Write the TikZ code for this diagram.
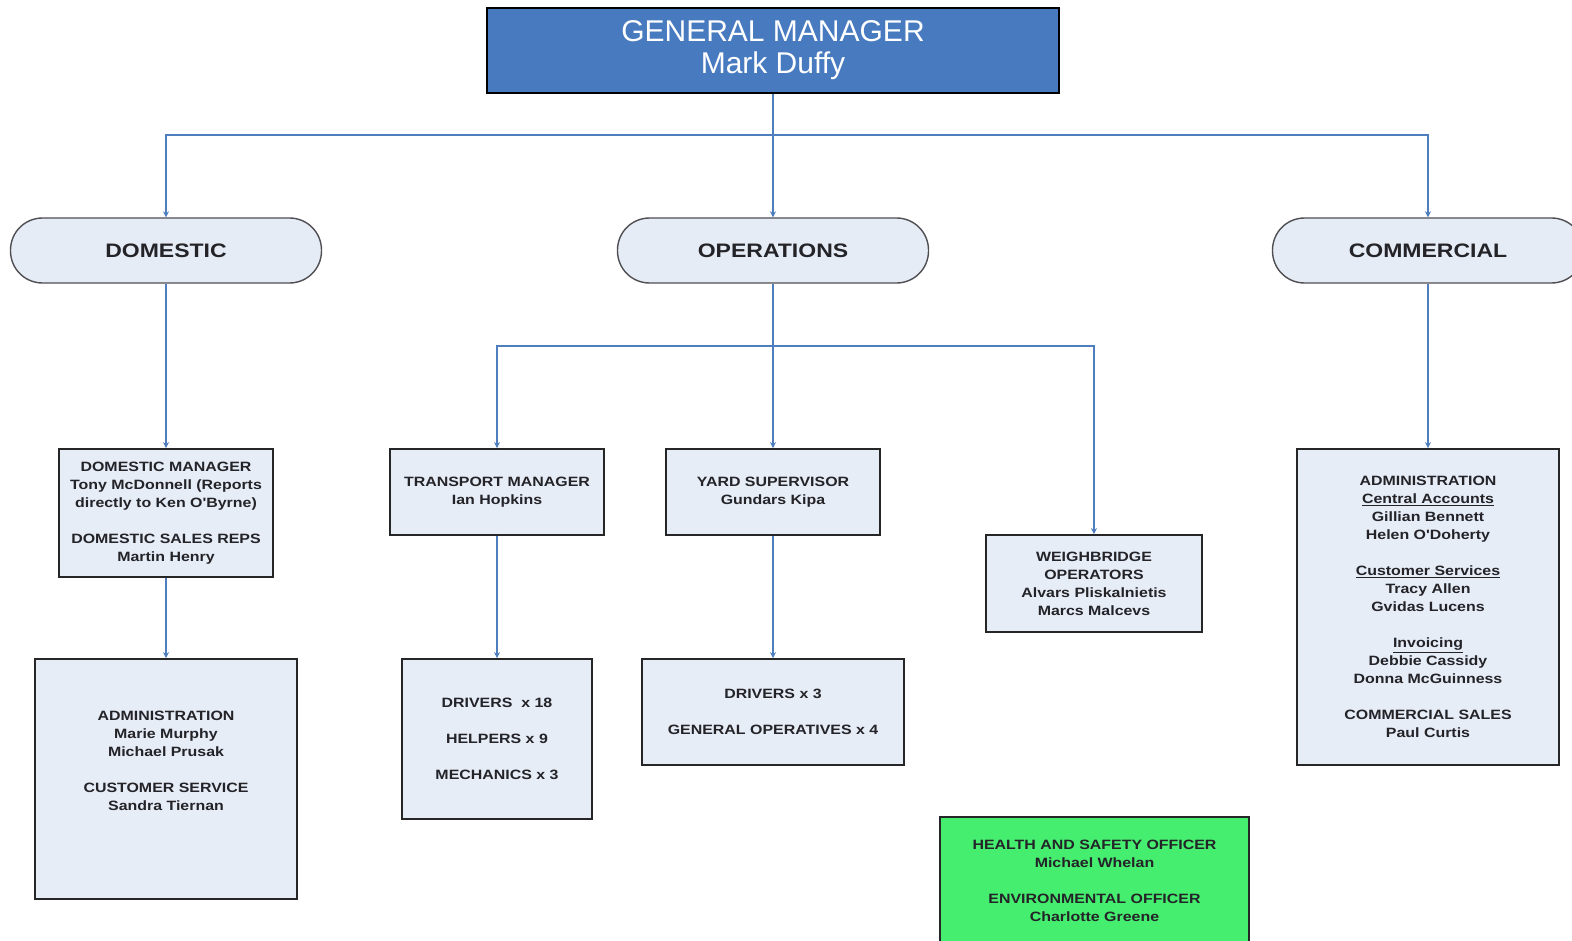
\documentclass[tikz,border=0pt]{standalone}
\usepackage{fontspec}
\setmainfont{Liberation Sans}
\newfontfamily\orgfont[FakeStretch=1.18]{Liberation Sans}
\usetikzlibrary{arrows.meta,positioning}

\definecolor{gmblue}{RGB}{72,122,192}
\definecolor{linkblue}{RGB}{79,126,190}
\definecolor{unitfill}{RGB}{230,236,246}
\definecolor{boxfill}{RGB}{231,237,247}
\definecolor{safegreen}{RGB}{70,238,112}
\definecolor{inkdark}{RGB}{35,35,40}

\tikzset{
  gmbox/.style={draw=black, line width=1.6pt, fill=gmblue, text=white, align=center,
    minimum width=572pt, minimum height=85pt, font=\fontsize{30}{32}\selectfont},
  unitbox/.style={draw=inkdark!80, line width=1.4pt, fill=unitfill, rounded corners=32pt,
    minimum width=311pt, minimum height=65pt, text=inkdark,
    font=\orgfont\bfseries\fontsize{19.5}{22}\selectfont},
  staffbox/.style={draw=black!85, line width=1.8pt, fill=boxfill, align=center, inner sep=0pt,
    text=inkdark, font=\orgfont\bfseries\fontsize{13.5}{18}\selectfont},
  stafftext/.style={align=center, inner sep=0pt, text=inkdark,
    font=\orgfont\bfseries\fontsize{13.5}{18}\selectfont},
  conn/.style={draw=linkblue, line width=1.3pt, -{Stealth[length=6pt,width=6pt]}},
  bus/.style={draw=linkblue, line width=1.3pt},
}

\begin{document}
\begin{tikzpicture}[x=1pt, y=-1pt]
  \useasboundingbox (0,0) rectangle (1572,941);

  % top of the chart
  \node[gmbox] (gm) at (773,50.5) {GENERAL MANAGER\\Mark Duffy};

  % the three divisions
  \node[unitbox] (dom) at (166,250.5) {DOMESTIC};
  \node[unitbox] (ops) at (773,250.5) {OPERATIONS};
  \node[unitbox] (com) at (1428,250.5) {COMMERCIAL};

  \coordinate (gmbus) at (773,135);
  \draw[bus] (gm.south) -- (gmbus);
  \draw[conn] (gmbus) -| (dom.north);
  \draw[conn] (gmbus) -- (ops.north);
  \draw[conn] (gmbus) -| (com.north);

  % domestic
  \node[staffbox, minimum width=214pt, minimum height=128pt] (dommgr) at (166,513)
    {DOMESTIC MANAGER\\Tony McDonnell (Reports\\directly to Ken O'Byrne)\\[18pt]DOMESTIC SALES REPS\\Martin Henry};
  \node[staffbox, minimum width=262pt, minimum height=240pt] (domadmin) at (166,779) {};
  \node[stafftext] (domadmintext) at ([yshift=18pt]domadmin.center)
    {ADMINISTRATION\\Marie Murphy\\Michael Prusak\\[18pt]CUSTOMER SERVICE\\Sandra Tiernan};
  \draw[conn] (dom.south) -- (dommgr.north);
  \draw[conn] (dommgr.south) -- (domadmin.north);

  % operations
  \node[staffbox, minimum width=214pt, minimum height=86pt] (trans) at (497,492)
    {TRANSPORT MANAGER\\Ian Hopkins};
  \node[staffbox, minimum width=214pt, minimum height=86pt] (yard) at (773,492)
    {YARD SUPERVISOR\\Gundars Kipa};
  \node[staffbox, minimum width=216pt, minimum height=97pt] (weigh) at (1094,583.5)
    {WEIGHBRIDGE\\OPERATORS\\Alvars Pliskalnietis\\Marcs Malcevs};
  \node[staffbox, minimum width=190pt, minimum height=160pt] (fleet) at (497,739)
    {DRIVERS\ \ x 18\\[18pt]HELPERS x 9\\[18pt]MECHANICS x 3};
  \node[staffbox, minimum width=262pt, minimum height=106pt] (yardcrew) at (773,712)
    {DRIVERS x 3\\[18pt]GENERAL OPERATIVES x 4};

  \coordinate (opsbus) at (773,346);
  \draw[conn] (ops.south) -- (yard.north);
  \draw[conn] (opsbus) -| (trans.north);
  \draw[conn] (opsbus) -| (weigh.north);
  \draw[conn] (trans.south) -- (fleet.north);
  \draw[conn] (yard.south) -- (yardcrew.north);

  % commercial
  \node[staffbox, minimum width=262pt, minimum height=316pt] (comstaff) at (1428,607)
    {ADMINISTRATION\\\underline{Central Accounts}\\Gillian Bennett\\Helen O'Doherty\\[18pt]%
     \underline{Customer Services}\\Tracy Allen\\Gvidas Lucens\\[18pt]%
     \underline{Invoicing}\\Debbie Cassidy\\Donna McGuinness\\[18pt]%
     COMMERCIAL SALES\\Paul Curtis};
  \draw[conn] (com.south) -- (comstaff.north);

  % health, safety and environment
  \node[staffbox, fill=safegreen, minimum width=309pt, minimum height=128pt] (safety) at (1094.5,881)
    {HEALTH AND SAFETY OFFICER\\Michael Whelan\\[18pt]ENVIRONMENTAL OFFICER\\Charlotte Greene};
\end{tikzpicture}
\end{document}
